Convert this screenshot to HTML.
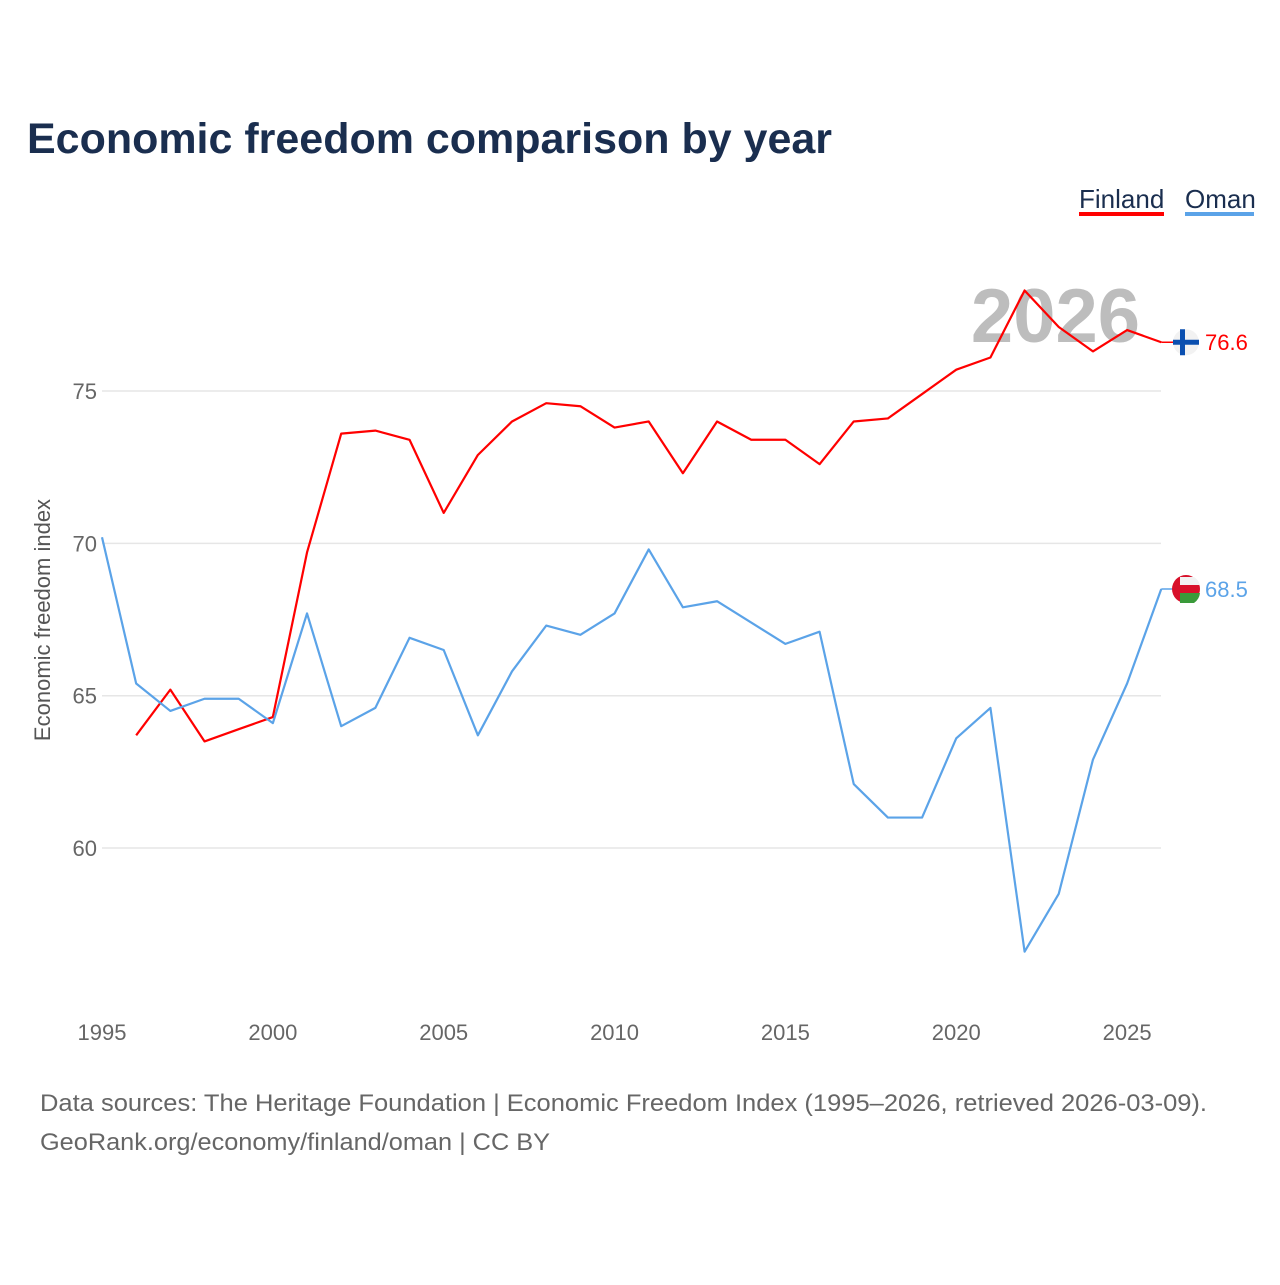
<!DOCTYPE html>
<html><head><meta charset="utf-8"><style>
body{margin:0;background:#fff;width:1280px;height:1280px;overflow:hidden;font-family:"Liberation Sans",sans-serif}
</style></head><body>
<svg id="chart" width="1280" height="1280" xmlns="http://www.w3.org/2000/svg" font-family="Liberation Sans, sans-serif">
<text x="27" y="153" font-size="43" font-weight="bold" fill="#1a2e4f" textLength="805" lengthAdjust="spacingAndGlyphs">Economic freedom comparison by year</text>
<g><text x="1079" y="208" font-size="26" fill="#1a2e4f">Finland</text><rect x="1079" y="212" width="85" height="4" fill="#ff0000"/></g>
<g><text x="1185" y="208" font-size="26" fill="#1a2e4f">Oman</text><rect x="1185" y="212" width="69" height="4" fill="#5ba3e8"/></g>
<text x="1140" y="342" font-size="76" font-weight="bold" fill="#bdbdbd" text-anchor="end">2026</text>
<text transform="translate(50,620) rotate(-90)" font-size="22" fill="#555" text-anchor="middle">Economic freedom index</text>
<g id="grid"></g><g id="xt"></g><g id="series"></g>
<text x="40" y="1111" font-size="24" fill="#666" textLength="1167" lengthAdjust="spacingAndGlyphs">Data sources: The Heritage Foundation | Economic Freedom Index (1995–2026, retrieved 2026-03-09).</text>
<text x="40" y="1150" font-size="24" fill="#666" textLength="510" lengthAdjust="spacingAndGlyphs">GeoRank.org/economy/finland/oman | CC BY</text>
</svg>
<script>
const yTicks=[60,65,70,75];
const xTicks=[1995,2000,2005,2010,2015,2020,2025];
const finlandYears=[1996,1997,1998,1999,2000,2001,2002,2003,2004,2005,2006,2007,2008,2009,2010,2011,2012,2013,2014,2015,2016,2017,2018,2019,2020,2021,2022,2023,2024,2025,2026];
const finland=[63.7,65.2,63.5,63.9,64.3,69.7,73.6,73.7,73.4,71.0,72.9,74.0,74.6,74.5,73.8,74.0,72.3,74.0,73.4,73.4,72.6,74.0,74.1,74.9,75.7,76.1,78.3,77.1,76.3,77.0,76.6];
const omanYears=[1995,1996,1997,1998,1999,2000,2001,2002,2003,2004,2005,2006,2007,2008,2009,2010,2011,2012,2013,2014,2015,2016,2017,2018,2019,2020,2021,2022,2023,2024,2025,2026];
const oman=[70.2,65.4,64.5,64.9,64.9,64.1,67.7,64.0,64.6,66.9,66.5,63.7,65.8,67.3,67.0,67.7,69.8,67.9,68.1,67.4,66.7,67.1,62.1,61.0,61.0,63.6,64.6,56.6,58.5,62.9,65.4,68.5];
const NS='http://www.w3.org/2000/svg';
const X=y=>102+(y-1995)*34.17;
const Y=v=>391+(75-v)*30.47;
function mk(t,a,p){const e=document.createElementNS(NS,t);for(const k in a)e.setAttribute(k,a[k]);p.appendChild(e);return e;}
const g=document.getElementById('grid');
yTicks.forEach(v=>{
 const l=mk('line',{x1:102,x2:1161,y1:Y(v),y2:Y(v),stroke:'#e6e6e6','stroke-width':1.5},g);
 
 
 const t=mk('text',{x:97,y:Y(v)+8,'font-size':22,fill:'#666','text-anchor':'end'},g);t.textContent=v;
 
 
});
const xt=document.getElementById('xt');
xTicks.forEach(v=>{
 const t=mk('text',{x:X(v),y:1040,'font-size':22,fill:'#666','text-anchor':'middle'},xt);t.textContent=v;
 
 
});
const s=document.getElementById('series');
function line(years,vals,col,name){
 const p=mk('polyline',{points:years.map((y,i)=>X(y)+','+Y(vals[i])).join(' '),fill:'none',stroke:col,'stroke-width':2.2,'stroke-linejoin':'round'},s);
 
 
 const last=vals[vals.length-1],ly=Y(last),lx=X(years[years.length-1]);
 mk('line',{x1:lx,x2:1186,y1:ly,y2:ly,stroke:col,'stroke-width':1.5},s);
 return {ly,last};
}
const f=line(finlandYears,finland,'#ff0000','finland-line');
const o=line(omanYears,oman,'#5ba3e8','oman-line');
const ff=mk('g',{},s);


mk('circle',{cx:1186,cy:f.ly,r:13,fill:'#f2f2f2'},ff);
mk('rect',{x:1173,y:f.ly-2.5,width:26,height:5,fill:'#0a4fb0'},ff);
mk('rect',{x:1180,y:f.ly-13,width:5,height:26,fill:'#0a4fb0'},ff);
const ft=mk('text',{x:1205,y:f.ly+8,'font-size':22,fill:'#ff0000'},s);ft.textContent=f.last.toFixed(1);


const of=mk('g',{},s);


mk('circle',{cx:1186,cy:o.ly,r:14,fill:'#d8102a'},of);
mk('path',{d:`M1180 ${o.ly-4} h20 a14 14 0 0 0 -6 -8 h-14z`,fill:'#f2f2f2'},of);
mk('path',{d:`M1180 ${o.ly+4} h20 a14 14 0 0 1 -6 10 h-14z`,fill:'#3a9a3a'},of);
const ot=mk('text',{x:1205,y:o.ly+8,'font-size':22,fill:'#5ba3e8'},s);ot.textContent=o.last.toFixed(1);


</script>
</body></html>
